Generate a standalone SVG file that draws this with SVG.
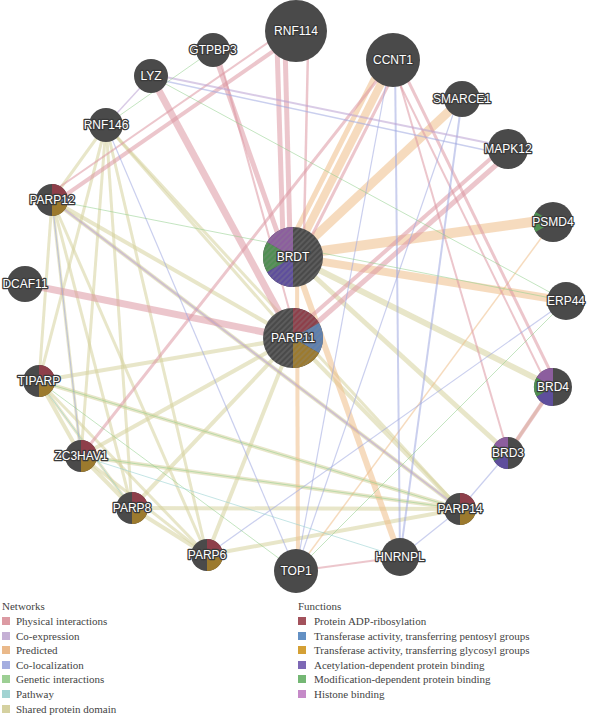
<svg xmlns="http://www.w3.org/2000/svg" xmlns:xlink="http://www.w3.org/1999/xlink" width="590" height="719" viewBox="0 0 590 719">
<style>
.e{fill:none;stroke-linecap:butt;stroke-opacity:0.55}
.pi{stroke:#dc98a3}
.ce{stroke:#b9a0d2}
.pr{stroke:#efbd88}
.cl{stroke:#9fa8e0}
.gi{stroke:#94cf8e}
.pw{stroke:#94d0d0}
.sd{stroke:#d6d29c}
.node{fill:#4a4a4a}
.hat{fill:url(#hatch)}
.lbl{font-family:"Liberation Sans",Arial,sans-serif;font-size:12px;fill:#fff;stroke:#3a3a3a;stroke-width:2.6px;stroke-linejoin:round;paint-order:stroke fill;text-anchor:middle}
.fr{fill:#8e3f4a}
.fb{fill:#5d80b0}
.fg{fill:#9c7a2e}
.fp{fill:#5e4e9c}
.fm{fill:#4f8f52}
.fh{fill:#8c5e9e}
.lt{font-family:"Liberation Serif","Times New Roman",serif;font-size:11px;fill:#444}
</style>
<defs>
<pattern id="hatch" patternUnits="userSpaceOnUse" width="4" height="4" patternTransform="rotate(45)">
<line x1="1" y1="0" x2="1" y2="4" stroke="#8a8a8a" stroke-width="1" stroke-opacity="0.55"/>
</pattern>
<path id="q1" d="M0 0 L0 -1 A1 1 0 0 1 0.985 -0.174 Z"/>
<path id="q2" d="M0 0 L0.985 -0.174 A1 1 0 0 1 0.985 0.174 Z"/>
<path id="q3" d="M0 0 L0.985 0.174 A1 1 0 0 1 0 1 Z"/>
<path id="s1" d="M0 0 L0 -1 A1 1 0 0 1 0.866 -0.5 Z"/>
<path id="s2" d="M0 0 L0.866 -0.5 A1 1 0 0 1 0.866 0.5 Z"/>
<path id="s3" d="M0 0 L0.866 0.5 A1 1 0 0 1 0 1 Z"/>
<path id="s4" d="M0 0 L0 1 A1 1 0 0 1 -0.866 0.5 Z"/>
<path id="s5" d="M0 0 L-0.866 0.5 A1 1 0 0 1 -0.866 -0.5 Z"/>
<path id="s6" d="M0 0 L-0.866 -0.5 A1 1 0 0 1 0 -1 Z"/>
</defs>
<rect width="590" height="719" fill="#fff"/>

<g id="edges">
<!-- shared protein domain -->
<g class="e sd">
<line x1="293" y1="338" x2="52" y2="200" stroke-width="4"/>
<line x1="293" y1="338" x2="39" y2="381" stroke-width="4"/>
<line x1="293" y1="338" x2="81" y2="456" stroke-width="4"/>
<line x1="293" y1="338" x2="132" y2="508" stroke-width="4"/>
<line x1="293" y1="338" x2="207" y2="555" stroke-width="4"/>
<line x1="293" y1="338" x2="460" y2="509" stroke-width="4"/>
<line x1="293" y1="338" x2="106" y2="125" stroke-width="3"/>
<line x1="52" y1="200" x2="39" y2="381" stroke-width="3"/>
<line x1="52" y1="200" x2="81" y2="456" stroke-width="3"/>
<line x1="52" y1="200" x2="132" y2="508" stroke-width="3"/>
<line x1="52" y1="200" x2="207" y2="555" stroke-width="3"/>
<line x1="52" y1="200" x2="460" y2="509" stroke-width="4"/>
<line x1="52" y1="200" x2="106" y2="125" stroke-width="3"/>
<line x1="39" y1="381" x2="81" y2="456" stroke-width="4"/>
<line x1="39" y1="381" x2="132" y2="508" stroke-width="3"/>
<line x1="39" y1="381" x2="207" y2="555" stroke-width="3"/>
<line x1="39" y1="381" x2="460" y2="509" stroke-width="4"/>
<line x1="39" y1="381" x2="106" y2="125" stroke-width="3"/>
<line x1="81" y1="456" x2="132" y2="508" stroke-width="4"/>
<line x1="81" y1="456" x2="207" y2="555" stroke-width="3"/>
<line x1="81" y1="456" x2="460" y2="509" stroke-width="4"/>
<line x1="81" y1="456" x2="106" y2="125" stroke-width="3"/>
<line x1="132" y1="508" x2="207" y2="555" stroke-width="4"/>
<line x1="132" y1="508" x2="460" y2="509" stroke-width="4"/>
<line x1="132" y1="508" x2="106" y2="125" stroke-width="3"/>
<line x1="207" y1="555" x2="460" y2="509" stroke-width="4"/>
<line x1="207" y1="555" x2="106" y2="125" stroke-width="3"/>
<line x1="460" y1="509" x2="106" y2="125" stroke-width="3"/>
<line x1="293" y1="257" x2="553" y2="387" stroke-width="6"/>
<line x1="293" y1="257" x2="508" y2="453" stroke-width="5"/>
<line x1="553" y1="387" x2="508" y2="453" stroke-width="3"/>
</g>
<!-- predicted -->
<g class="e pr">
<line x1="393" y1="60" x2="293" y2="257" stroke-width="8"/>
<line x1="385" y1="56" x2="285" y2="253" stroke-width="5"/>
<line x1="462" y1="99" x2="293" y2="257" stroke-width="9"/>
<line x1="553" y1="219" x2="293" y2="255" stroke-width="10"/>
<line x1="566" y1="301" x2="293" y2="257" stroke-width="8"/>
<line x1="293" y1="257" x2="400" y2="557" stroke-width="6"/>
<line x1="297" y1="257" x2="298" y2="571" stroke-width="4"/>
<line x1="553" y1="222" x2="296" y2="571" stroke-width="1.5"/>
</g>
<!-- physical interactions -->
<g class="e pi">
<line x1="277" y1="45" x2="283" y2="240" stroke-width="5"/>
<line x1="285" y1="45" x2="290" y2="240" stroke-width="5"/>
<line x1="308" y1="50" x2="304" y2="235" stroke-width="2.5"/>
<line x1="213" y1="50" x2="280" y2="240" stroke-width="5"/>
<line x1="218" y1="52" x2="292" y2="320" stroke-width="2"/>
<line x1="151" y1="76" x2="293" y2="338" stroke-width="7"/>
<line x1="54" y1="203" x2="298" y2="34" stroke-width="4"/>
<line x1="48" y1="195" x2="292" y2="26" stroke-width="2"/>
<line x1="25" y1="284" x2="293" y2="338" stroke-width="7"/>
<line x1="81" y1="456" x2="393" y2="60" stroke-width="3"/>
<line x1="511" y1="152" x2="296" y2="341" stroke-width="5"/>
<line x1="505" y1="146" x2="290" y2="335" stroke-width="4"/>
<line x1="397" y1="58" x2="557" y2="385" stroke-width="3"/>
<line x1="389" y1="62" x2="549" y2="389" stroke-width="2"/>
<line x1="393" y1="60" x2="508" y2="453" stroke-width="2"/>
<line x1="553" y1="387" x2="508" y2="453" stroke-width="4"/>
<line x1="400" y1="62" x2="300" y2="259" stroke-width="3"/>
<line x1="296" y1="571" x2="400" y2="557" stroke-width="2"/>
</g>
<!-- co-localization -->
<g class="e cl">
<line x1="395" y1="60" x2="400" y2="557" stroke-width="2"/>
<line x1="462" y1="99" x2="400" y2="557" stroke-width="2"/>
<line x1="458" y1="100" x2="296" y2="571" stroke-width="1.2"/>
<line x1="390" y1="62" x2="296" y2="571" stroke-width="1.2"/>
<line x1="106" y1="125" x2="296" y2="571" stroke-width="1.2"/>
<line x1="566" y1="301" x2="207" y2="555" stroke-width="1.2"/>
<line x1="52" y1="200" x2="81" y2="456" stroke-width="1.2"/>
<line x1="400" y1="557" x2="460" y2="509" stroke-width="1.2"/>
<line x1="508" y1="453" x2="460" y2="509" stroke-width="1.2"/>
<line x1="151" y1="78" x2="508" y2="155" stroke-width="1.5"/>
</g>
<!-- co-expression -->
<g class="e ce">
<line x1="151" y1="74" x2="508" y2="147" stroke-width="2"/>
<line x1="52" y1="200" x2="460" y2="509" stroke-width="2"/>
<line x1="151" y1="76" x2="106" y2="125" stroke-width="1.5"/>
</g>
<!-- genetic interactions -->
<g class="e gi">
<line x1="151" y1="76" x2="566" y2="301" stroke-width="1"/>
<line x1="52" y1="200" x2="566" y2="301" stroke-width="1"/>
<line x1="39" y1="381" x2="460" y2="509" stroke-width="1"/>
<line x1="81" y1="456" x2="460" y2="509" stroke-width="1"/>
<line x1="106" y1="125" x2="213" y2="50" stroke-width="1"/>
<line x1="566" y1="301" x2="296" y2="571" stroke-width="1"/>
<line x1="39" y1="381" x2="296" y2="571" stroke-width="1"/>
</g>
<!-- pathway -->
<g class="e pw">
<line x1="39" y1="381" x2="132" y2="508" stroke-width="1"/>
<line x1="81" y1="456" x2="400" y2="557" stroke-width="1"/>
</g>
</g>

<g id="n-RNF114"><circle class="node" cx="296" cy="31" r="31"/><text class="lbl" x="296" y="35">RNF114</text></g>
<g id="n-GTPBP3"><circle class="node" cx="213" cy="50" r="17"/><text class="lbl" x="213" y="54">GTPBP3</text></g>
<g id="n-LYZ"><circle class="node" cx="151" cy="76" r="17"/><text class="lbl" x="151" y="80">LYZ</text></g>
<g id="n-RNF146"><circle class="node" cx="106" cy="125" r="17"/><text class="lbl" x="106" y="129">RNF146</text></g>
<g id="n-PARP12"><circle class="node" cx="52" cy="200" r="16"/>
<use href="#q1" class="fr" transform="translate(52,200) scale(16)"/><use href="#q2" class="fb" transform="translate(52,200) scale(16)"/><use href="#q3" class="fg" transform="translate(52,200) scale(16)"/>
<text class="lbl" x="52" y="204">PARP12</text></g>
<g id="n-DCAF11"><circle class="node" cx="25" cy="284" r="18"/><text class="lbl" x="25" y="288">DCAF11</text></g>
<g id="n-TIPARP"><circle class="node" cx="39" cy="381" r="16"/>
<use href="#q1" class="fr" transform="translate(39,381) scale(16)"/><use href="#q2" class="fb" transform="translate(39,381) scale(16)"/><use href="#q3" class="fg" transform="translate(39,381) scale(16)"/>
<text class="lbl" x="39" y="385">TIPARP</text></g>
<g id="n-ZC3HAV1"><circle class="node" cx="81" cy="456" r="16"/>
<use href="#q1" class="fr" transform="translate(81,456) scale(16)"/><use href="#q2" class="fb" transform="translate(81,456) scale(16)"/><use href="#q3" class="fg" transform="translate(81,456) scale(16)"/>
<text class="lbl" x="81" y="460">ZC3HAV1</text></g>
<g id="n-PARP8"><circle class="node" cx="132" cy="508" r="16"/>
<use href="#q1" class="fr" transform="translate(132,508) scale(16)"/><use href="#q2" class="fb" transform="translate(132,508) scale(16)"/><use href="#q3" class="fg" transform="translate(132,508) scale(16)"/>
<text class="lbl" x="132" y="512">PARP8</text></g>
<g id="n-PARP6"><circle class="node" cx="207" cy="555" r="16"/>
<use href="#q1" class="fr" transform="translate(207,555) scale(16)"/><use href="#q2" class="fb" transform="translate(207,555) scale(16)"/><use href="#q3" class="fg" transform="translate(207,555) scale(16)"/>
<text class="lbl" x="207" y="559">PARP6</text></g>
<g id="n-TOP1"><circle class="node" cx="296" cy="571" r="22"/><text class="lbl" x="296" y="575">TOP1</text></g>
<g id="n-HNRNPL"><circle class="node" cx="400" cy="557" r="19"/><text class="lbl" x="400" y="561">HNRNPL</text></g>
<g id="n-PARP14"><circle class="node" cx="460" cy="509" r="16"/>
<use href="#q1" class="fr" transform="translate(460,509) scale(16)"/><use href="#q2" class="fb" transform="translate(460,509) scale(16)"/><use href="#q3" class="fg" transform="translate(460,509) scale(16)"/>
<text class="lbl" x="460" y="513">PARP14</text></g>
<g id="n-BRD3"><circle class="node" cx="508" cy="453" r="16"/>
<use href="#s4" class="fp" transform="translate(508,453) scale(16)"/><use href="#s5" class="fm" transform="translate(508,453) scale(16)"/><use href="#s6" class="fh" transform="translate(508,453) scale(16)"/>
<text class="lbl" x="508" y="457">BRD3</text></g>
<g id="n-BRD4"><circle class="node" cx="553" cy="387" r="19"/>
<use href="#s4" class="fp" transform="translate(553,387) scale(19)"/><use href="#s5" class="fm" transform="translate(553,387) scale(19)"/><use href="#s6" class="fh" transform="translate(553,387) scale(19)"/>
<text class="lbl" x="553" y="391">BRD4</text></g>
<g id="n-ERP44"><circle class="node" cx="566" cy="301" r="19"/><text class="lbl" x="566" y="305">ERP44</text></g>
<g id="n-PSMD4"><circle class="node" cx="553" cy="222" r="20"/>
<use href="#s5" class="fm" transform="translate(553,222) scale(20)"/>
<text class="lbl" x="553" y="226">PSMD4</text></g>
<g id="n-MAPK12"><circle class="node" cx="508" cy="149" r="20"/><text class="lbl" x="508" y="153">MAPK12</text></g>
<g id="n-SMARCE1"><circle class="node" cx="462" cy="99" r="18"/><text class="lbl" x="462" y="103">SMARCE1</text></g>
<g id="n-CCNT1"><circle class="node" cx="393" cy="60" r="27"/><text class="lbl" x="393" y="64">CCNT1</text></g>
<g id="n-BRDT"><circle class="node" cx="293" cy="257" r="30"/>
<use href="#s4" class="fp" transform="translate(293,257) scale(30)"/><use href="#s5" class="fm" transform="translate(293,257) scale(30)"/><use href="#s6" class="fh" transform="translate(293,257) scale(30)"/>
<circle class="hat" cx="293" cy="257" r="30"/>
<text class="lbl" x="293" y="261">BRDT</text></g>
<g id="n-PARP11"><circle class="node" cx="293" cy="338" r="30"/>
<use href="#s1" class="fr" transform="translate(293,338) scale(30)"/><use href="#s2" class="fb" transform="translate(293,338) scale(30)"/><use href="#s3" class="fg" transform="translate(293,338) scale(30)"/>
<circle class="hat" cx="293" cy="338" r="30"/>
<text class="lbl" x="293" y="342">PARP11</text></g>

<g id="legend-networks">
<text class="lt" x="2" y="610">Networks</text>
<rect x="2" y="617" width="8" height="8" fill="#dc9aa3"/><text class="lt" x="16" y="625">Physical interactions</text>
<rect x="2" y="632" width="8" height="8" fill="#c5b0d5"/><text class="lt" x="16" y="640">Co-expression</text>
<rect x="2" y="646" width="8" height="8" fill="#eab98a"/><text class="lt" x="16" y="654">Predicted</text>
<rect x="2" y="661" width="8" height="8" fill="#a4aee0"/><text class="lt" x="16" y="669">Co-localization</text>
<rect x="2" y="675" width="8" height="8" fill="#9dcf94"/><text class="lt" x="16" y="683">Genetic interactions</text>
<rect x="2" y="690" width="8" height="8" fill="#a2d3d2"/><text class="lt" x="16" y="698">Pathway</text>
<rect x="2" y="705" width="8" height="8" fill="#d5d1a0"/><text class="lt" x="16" y="713">Shared protein domain</text>
</g>
<g id="legend-functions">
<text class="lt" x="298" y="610">Functions</text>
<rect x="298" y="617" width="8" height="8" fill="#a3525c"/><text class="lt" x="314" y="625">Protein ADP-ribosylation</text>
<rect x="298" y="632" width="8" height="8" fill="#6390c4"/><text class="lt" x="314" y="640">Transferase activity, transferring pentosyl groups</text>
<rect x="298" y="646" width="8" height="8" fill="#d4a035"/><text class="lt" x="314" y="654">Transferase activity, transferring glycosyl groups</text>
<rect x="298" y="661" width="8" height="8" fill="#7d68b5"/><text class="lt" x="314" y="669">Acetylation-dependent protein binding</text>
<rect x="298" y="675" width="8" height="8" fill="#74b774"/><text class="lt" x="314" y="683">Modification-dependent protein binding</text>
<rect x="298" y="690" width="8" height="8" fill="#c58ac8"/><text class="lt" x="314" y="698">Histone binding</text>
</g>
</svg>
